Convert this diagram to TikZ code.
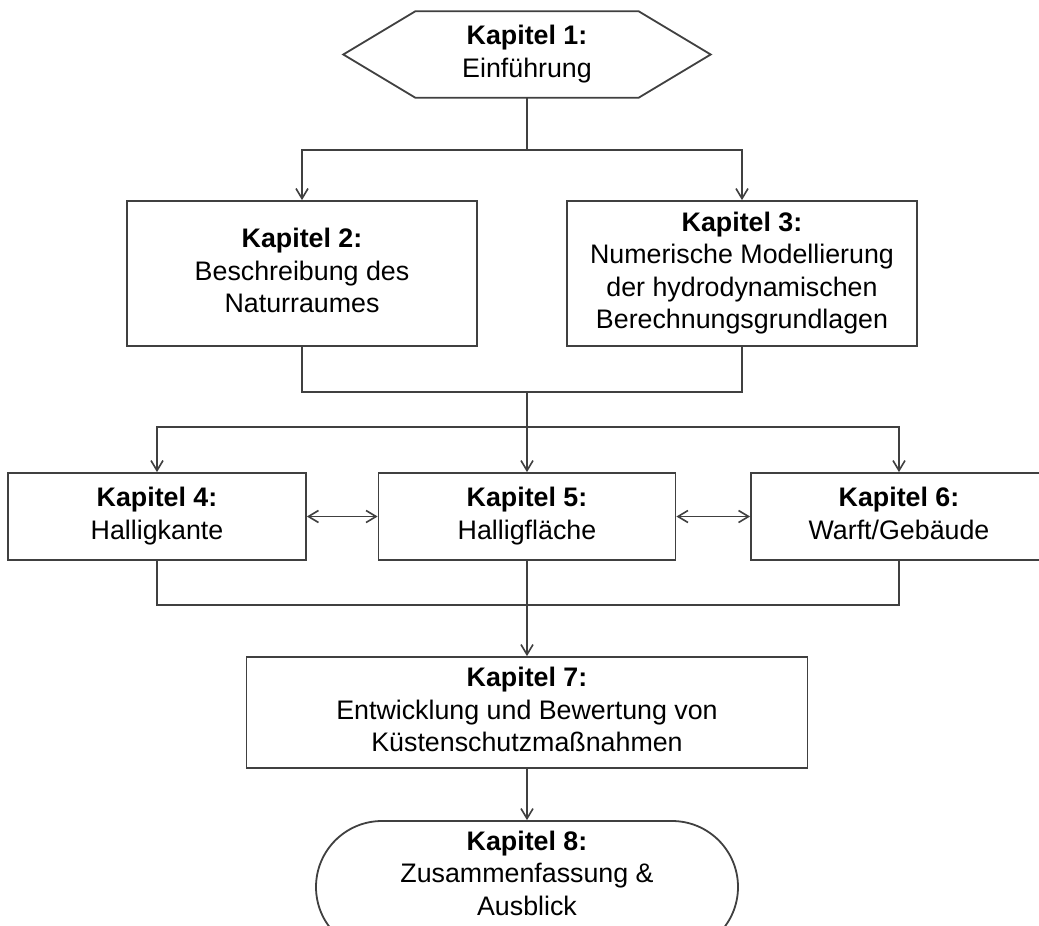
\documentclass[tikz,border=0pt]{standalone}
\usepackage{fontspec}
\setmainfont{Liberation Sans}
\usetikzlibrary{shapes.misc,arrows.meta,calc}
\definecolor{lc}{HTML}{404040}
\begin{document}
\begin{tikzpicture}[x=1pt,y=-1pt,
  every node/.style={font=\fontsize{26.8}{32.5}\selectfont, align=center, inner sep=0pt, text=black},
  line/.style={draw=lc, line width=1.8pt},
  box/.style={line, rectangle},
  arr/.style={line, -{Straight Barb[length=10pt,width=12pt,line width=1.6pt]}},
  darr/.style={line, {Straight Barb[length=10pt,width=12pt,line width=1.6pt]}-{Straight Barb[length=10pt,width=12pt,line width=1.6pt]}}]
\useasboundingbox (0,0) rectangle (1039,926);
\clip (0,0) rectangle (1039,926);
\fill[white] (0,0) rectangle (1039,926);

% nodes
\node[minimum width=367pt, minimum height=86pt] (n1) at (527,54.5) {\strut\textbf{Kapitel 1:}\\Einführung\strut};
\draw[line, line join=miter]
  ($(n1.north west)+(72,0)$) -- ($(n1.north east)+(-72,0)$) -- (n1.east)
  -- ($(n1.south east)+(-72,0)$) -- ($(n1.south west)+(72,0)$) -- (n1.west) -- cycle;

\node[box, minimum width=350pt, minimum height=145pt] (n2) at (302,273.5)
  {\strut\textbf{Kapitel 2:}\\Beschreibung des\\Naturraumes\strut};
\node[box, minimum width=350pt, minimum height=145pt] (n3) at (742,273.5)
  {\strut\textbf{Kapitel 3:}\\Numerische Modellierung\\der hydrodynamischen\\Berechnungsgrundlagen\strut};

\node[box, minimum width=298pt, minimum height=87pt] (n4) at (157,516.5)
  {\strut\textbf{Kapitel 4:}\\Halligkante\strut};
\node[box, minimum width=297pt, minimum height=87pt] (n5) at (527,516.5)
  {\strut\textbf{Kapitel 5:}\\Halligfläche\strut};
\node[box, minimum width=296pt, minimum height=87pt] (n6) at (899,516.5)
  {\strut\textbf{Kapitel 6:}\\Warft/Gebäude\strut};

\node[box, minimum width=561pt, minimum height=111pt] (n7) at (527,712.5)
  {\strut\textbf{Kapitel 7:}\\Entwicklung und Bewertung von\\Küstenschutzmaßnahmen\strut};

\node[line, rounded rectangle, minimum width=422pt, minimum height=132pt] (n8) at (527,887) {};
\node (t8) at ($(n8.center)+(0,-11)$)
  {\strut\textbf{Kapitel 8:}\\Zusammenfassung \&\\Ausblick\strut};

% junctions
\coordinate (j1) at (n1.south |- 0,150);
\coordinate (j2) at (n5.north |- 0,392);
\coordinate (j3) at (n5.north |- 0,427);
\coordinate (j4) at (n5.south |- 0,605);

% connectors
\draw[line] (n1.south) -- (j1);
\draw[arr] (j1) -| (n2.north);
\draw[arr] (j1) -| (n3.north);

\draw[line] (n2.south) |- (j2) -| (n3.south);
\draw[line] (j2) -- (j3);
\draw[arr] (j3) -| (n4.north);
\draw[arr] (j3) -| (n6.north);
\draw[arr] (j3) -- (n5.north);

\draw[darr] (n4.east) -- (n5.west);
\draw[darr] (n5.east) -- (n6.west);

\draw[line] (n4.south) |- (j4) -| (n6.south);
\draw[arr] (n5.south) -- (n7.north);

\draw[arr] (n7.south) -- (n8.north);
\end{tikzpicture}
\end{document}
